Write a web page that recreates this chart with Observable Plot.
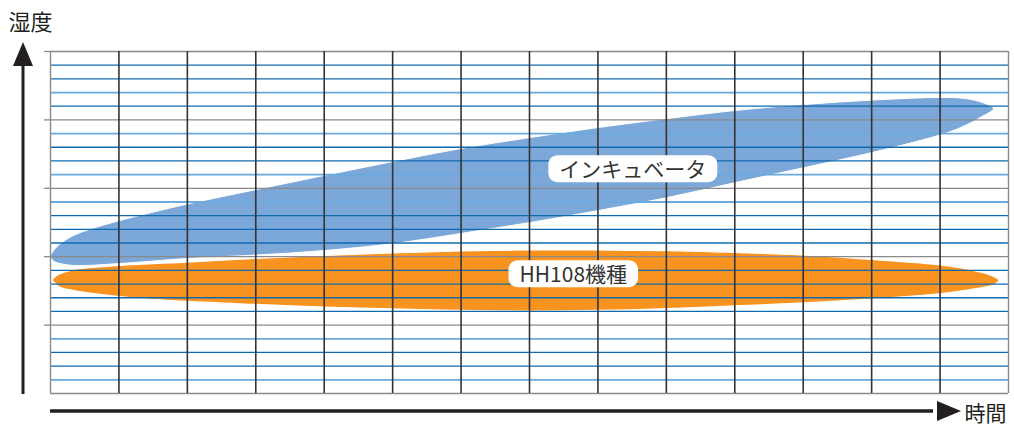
<!DOCTYPE html>
<html>
<head>
<meta charset="utf-8">
<script src="https://cdn.jsdelivr.net/npm/d3@7"></script>
<script src="https://cdn.jsdelivr.net/npm/@observablehq/plot@0.6"></script>
<style>
  html, body { margin: 0; padding: 0; background: #fff; }
  #chart { position: relative; width: 1014px; height: 427px; overflow: hidden; }
  svg { display: block; }
</style>
</head>
<body>
<div id="chart"></div>
<script>
// ---- grid (time columns / humidity rows) ----
const colLines = [0, 1, 2, 3, 4, 5, 6, 7, 8, 9, 10, 11, 12, 13, 14];
const edgeCols = [0, 14];
const rowLines = [0, 1, 2, 3, 4, 5, 6, 7, 8, 9, 10, 11, 12, 13, 14, 15, 16, 17, 18, 19, 20, 21, 22, 23, 24, 25];
const majorRows = [0, 5, 10, 15, 20, 25];
const tickRows = [5, 10, 15, 20, 25];
const lightRows = [1, 4, 14, 16, 19, 22];

// ---- インキュベータ band outline, clockwise from left tip ----
const blueOutX = [0, 0.04, 0.146, 0.336, 0.585, 1.01, 2.0, 3.01, 4.0, 5.01, 6.0, 7.01, 8.0, 9.02, 10.0, 11.02, 12.01, 13.02, 13.37, 13.62, 13.78,
                  13.59, 13.30, 13.02, 12.01, 11.02, 10.01, 9.02, 8.01, 7.01, 6.0, 5.01, 4.0, 3.01, 2.0, 1.01, 0.336, 0.10, 0.04];
const blueOutY = [10.01, 10.42, 10.96, 11.55, 12.02, 12.64, 13.85, 14.91, 15.94, 16.96, 17.91, 18.71, 19.44, 20.10, 20.69, 21.13, 21.45, 21.64, 21.56, 21.27, 20.83,
                  20.18, 19.44, 18.93, 17.62, 16.52, 15.42, 14.33, 13.38, 12.50, 11.70, 10.96, 10.45, 10.12, 9.87, 9.50, 9.36, 9.55, 9.70];

// ---- HH108機種 band outline, clockwise from left tip ----
const orangeOutX = [0.025, 0.07, 0.146, 0.336, 1.01, 2.0, 3.01, 4.0, 5.01, 6.0, 7.01, 8.0, 9.02, 10.0, 11.02, 12.01, 13.02, 13.44, 13.78, 13.86,
                    13.78, 13.44, 13.02, 12.01, 11.02, 10.0, 9.02, 8.0, 7.01, 6.0, 5.01, 4.0, 3.01, 2.0, 1.01, 0.336, 0.146, 0.07];
const orangeOutY = [8.30, 8.56, 8.77, 9.06, 9.36, 9.61, 9.87, 10.09, 10.27, 10.42, 10.49, 10.49, 10.45, 10.31, 10.12, 9.80, 9.39, 9.06, 8.58, 8.26,
                    7.95, 7.60, 7.31, 6.91, 6.62, 6.40, 6.20, 6.07, 6.03, 6.07, 6.18, 6.32, 6.51, 6.73, 7.09, 7.53, 7.75, 8.04];

// ---- labels ----
const labelNames = ["インキュベータ", "HH108機種"];
const labelX = [8.51, 7.64];
const labelY = [16.3, 8.63];

const yTitle = "湿度";
const xTitle = "時間";

const blueShape = blueOutX.map((x, i) => ({x, y: blueOutY[i]}));
const orangeShape = orangeOutX.map((x, i) => ({x, y: orangeOutY[i]}));
const labels = labelNames.map((name, i) => ({name, x: labelX[i], y: labelY[i]}));
const minorRows = rowLines.filter(r => !majorRows.includes(r));
const darkRows = minorRows.filter(r => !lightRows.includes(r));
const innerCols = colLines.filter(c => !edgeCols.includes(c));

const FONT = "'Noto Sans CJK JP', 'Noto Sans', sans-serif";

const chart = Plot.plot({
  width: 1014,
  height: 427,
  marginLeft: 50,
  marginRight: 6,
  marginTop: 51,
  marginBottom: 34,
  style: {fontFamily: FONT, background: "white", overflow: "visible"},
  x: {domain: [0, 14], axis: null},
  y: {domain: [0, 25], axis: null},
  marks: [
    Plot.line(blueShape, {x: "x", y: "y", curve: "catmull-rom-closed", fill: "#7ba7d9", stroke: "white", strokeWidth: 1}),
    Plot.line(orangeShape, {x: "x", y: "y", curve: "catmull-rom-closed", fill: "#f7931e", stroke: "white", strokeWidth: 1.2}),
    Plot.ruleY(lightRows, {stroke: "#6aaade", strokeWidth: 1.8}),
    Plot.ruleY(darkRows, {stroke: "#0f6bb0", strokeWidth: 1.3}),
    Plot.ruleY(majorRows, {stroke: "#8a8a8a", strokeWidth: 1.3}),
    Plot.axisY({ticks: tickRows, tickSize: 6, tickFormat: () => "", label: null, stroke: "#8a8a8a", strokeWidth: 1.3}),
    Plot.ruleX(innerCols, {stroke: "#333", strokeWidth: 1.6}),
    Plot.ruleX(edgeCols, {stroke: "#8a8a8a", strokeWidth: 1.4}),
    Plot.text(labels, {x: "x", y: "y", text: "name", fontSize: 21, fill: "#333"}),
    Plot.text([yTitle], {frameAnchor: "top-left", lineAnchor: "middle", textAnchor: "start", dx: -42, dy: -29, fontSize: 22, fill: "#231f20"}),
    Plot.text([xTitle], {frameAnchor: "bottom-right", lineAnchor: "middle", textAnchor: "start", dx: -44, dy: 21, fontSize: 21, fill: "#231f20"})
  ]
});

document.getElementById("chart").append(chart);

// white rounded boxes behind the band labels
Array.from(chart.querySelectorAll("text"))
  .filter(t => labelNames.includes(t.textContent))
  .forEach(t => {
    const b = t.getBBox();
    const r = document.createElementNS("http://www.w3.org/2000/svg", "rect");
    const h = 27;
    const cy = b.y + b.height / 2 + 0.5;
    r.setAttribute("x", b.x - 11);
    r.setAttribute("y", cy - h / 2);
    r.setAttribute("width", b.width + 22);
    r.setAttribute("height", h);
    r.setAttribute("rx", 9);
    r.setAttribute("fill", "white");
    if (t.getAttribute("transform")) r.setAttribute("transform", t.getAttribute("transform"));
    t.parentNode.insertBefore(r, t);
  });

// axis arrows (decoration along the frame)
const sx = chart.scale("x").range, sy = chart.scale("y").range;
const svg = d3.select(chart);
const g = svg.append("g").attr("fill", "#231f20").attr("stroke", "#231f20");
const fLeft = sx[0], fRight = sx[1], fBottom = sy[0], fTop = sy[1];
const ax = fLeft - 27;
g.append("line").attr("x1", ax).attr("x2", ax).attr("y1", fBottom + 1).attr("y2", fTop + 12).attr("stroke-width", 3);
g.append("path").attr("stroke", "none").attr("d", `M${ax},${fTop - 9}L${ax - 10},${fTop + 15}L${ax + 10},${fTop + 15}Z`);
const ay = fBottom + 18;
g.append("line").attr("x1", fLeft).attr("x2", fRight - 75).attr("y1", ay).attr("y2", ay).attr("stroke-width", 3.5);
g.append("path").attr("stroke", "none").attr("d", `M${fRight - 47},${ay}L${fRight - 71},${ay - 10}L${fRight - 71},${ay + 10}Z`);
</script>
</body>
</html>
